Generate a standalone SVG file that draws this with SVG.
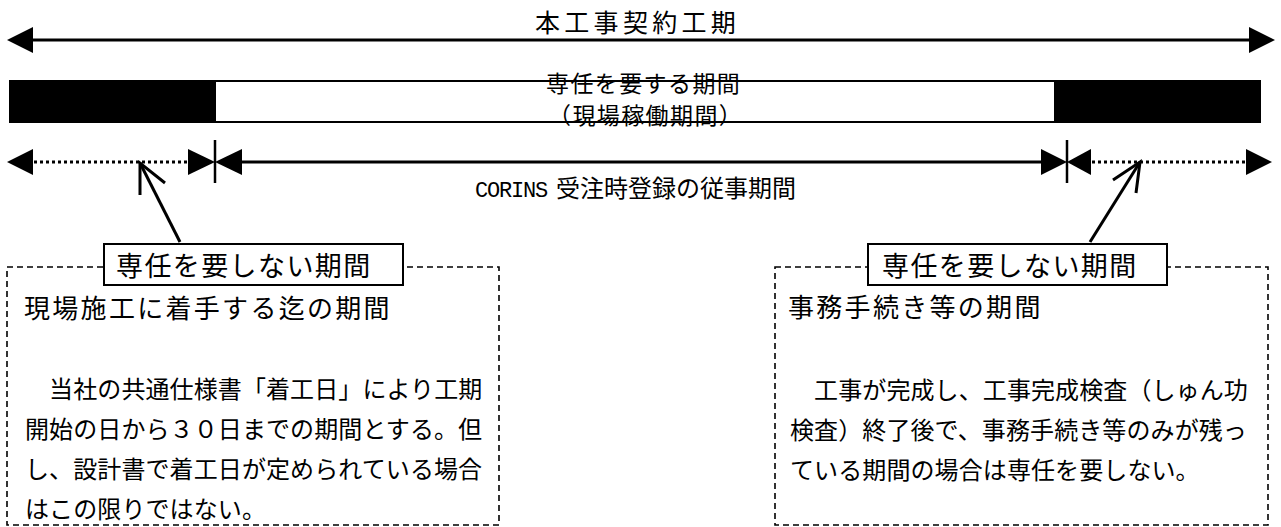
<svg xmlns="http://www.w3.org/2000/svg" width="1281" height="527" viewBox="0 0 1281 527">
<style>
text{font-family:"Noto Sans CJK JP","Noto Sans CJK SC",sans-serif;fill:#000}
.ln{stroke:#000;stroke-width:3;fill:none}
.dot{stroke:#000;stroke-width:3;stroke-dasharray:3 3;fill:none}
.tick{stroke:#000;stroke-width:2.5}
.ah{fill:#000}
.dbox{fill:none;stroke:#000;stroke-width:1.6;stroke-dasharray:6 4}
.lbox{fill:#fff;stroke:#000;stroke-width:2}
.lbl{font-size:27px;letter-spacing:1.4px}
.hd{font-size:26px;letter-spacing:2.3px}
.para{font-size:24px;letter-spacing:0.1px}
.mid{font-size:23px;letter-spacing:1.4px}
.call{stroke:#000;stroke-width:3;fill:none;stroke-linecap:butt}
</style>
<g id="contract-period">
<text x="535" y="32" style="font-size:25px;letter-spacing:4.3px">本工事契約工期</text>
</g>
<g id="bar">
<rect x="10" y="81" width="1250" height="41" fill="#fff" stroke="#000" stroke-width="2"/>
<rect x="9" y="80" width="207" height="43" fill="#000"/>
<rect x="1054" y="80" width="207" height="43" fill="#000"/>
<text class="mid" x="546" y="92">専任を要する期間</text>
<text class="mid" x="548" y="124">（現場稼働期間）</text>
</g>
<g id="corins">
<text y="197"><tspan x="475" style="font-family:'Liberation Mono',monospace;font-size:22px;letter-spacing:-1.2px">CORINS</tspan><tspan x="556" style="font-size:24px">受注時登録の従事期間</tspan></text>
</g>
<g id="connectors">
<line class="ln" x1="30" y1="40" x2="1252" y2="40"/>
<polygon class="ah" points="7,40 33,27 33,53"/>
<polygon class="ah" points="1275,40 1249,27 1249,53"/>
<polygon class="ah" points="7,162 33,149 33,175"/>
<line class="dot" x1="34" y1="162" x2="188" y2="162"/>
<polygon class="ah" points="188,149 188,175 215,162"/>
<line class="tick" x1="215" y1="140" x2="215" y2="183"/>
<polygon class="ah" points="215,162 242,149 242,175"/>
<line class="ln" x1="240" y1="162" x2="1043" y2="162"/>
<polygon class="ah" points="1041,149 1041,175 1067,162"/>
<line class="tick" x1="1067" y1="140" x2="1067" y2="183"/>
<polygon class="ah" points="1067,162 1091,149 1091,175"/>
<line class="dot" x1="1092" y1="162" x2="1246" y2="162"/>
<polygon class="ah" points="1246,149 1246,175 1272,162"/>
<polyline class="call" points="180,242 140,163"/>
<polyline class="call" points="140,195 140,163 165,183"/>
<polyline class="call" points="1090,242 1140,162"/>
<polyline class="call" points="1113,180 1140,162 1136,193"/>
</g>
<g id="left-note">
<rect class="dbox" x="7" y="267" width="492" height="258"/>
<rect class="lbox" x="104" y="244" width="299" height="41"/>
<text class="lbl" x="116" y="276">専任を要しない期間</text>
<text class="hd" x="24" y="318">現場施工に着手する迄の期間</text>
<text class="para" x="25" y="398">　当社の共通仕様書「着工日」により工期</text>
<text class="para" x="25" y="438">開始の日から３０日までの期間とする。但</text>
<text class="para" x="25" y="478">し、設計書で着工日が定められている場合</text>
<text class="para" x="25" y="518">はこの限りではない。</text>
</g>
<g id="right-note">
<rect class="dbox" x="775" y="267" width="493" height="258"/>
<rect class="lbox" x="868" y="244" width="299" height="41"/>
<text class="lbl" x="882" y="276">専任を要しない期間</text>
<text class="hd" x="788" y="317">事務手続き等の期間</text>
<text class="para" x="790" y="399">　工事が完成し、工事完成検査（しゅん功</text>
<text class="para" x="790" y="439">検査）終了後で、事務手続き等のみが残っ</text>
<text class="para" x="790" y="479">ている期間の場合は専任を要しない。</text>
</g>
</svg>
